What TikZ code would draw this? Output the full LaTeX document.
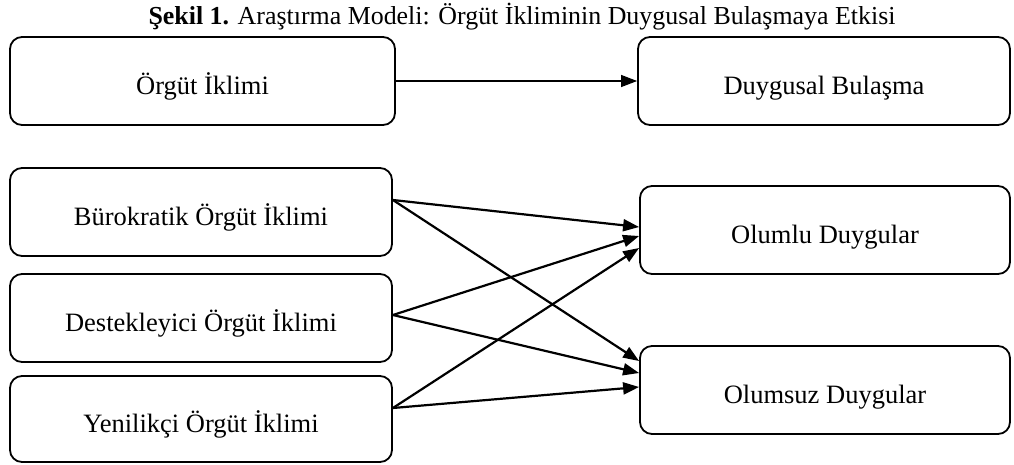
\documentclass[tikz,border=0pt]{standalone}
\usepackage{fontspec}
\setmainfont{Liberation Serif}
\usetikzlibrary{arrows.meta}
\begin{document}
\begin{tikzpicture}[x=1pt,y=-1pt,
  box/.style={draw=black,line width=1.8pt,rounded corners=12pt,inner sep=0pt,
    text height=26pt,text depth=0pt,
    font=\fontsize{26.5}{30}\selectfont},
  link/.style={line width=2.2pt,-{Triangle[length=16pt,width=12pt]}},
  thinlink/.style={line width=1.2pt,-{Triangle[length=16pt,width=12pt]}}]
\useasboundingbox (0,0) rectangle (1014,464);
\node[font=\fontsize{25.9}{30}\selectfont,anchor=base,inner sep=0pt] (title) at (522,24) {\textbf{Şekil 1.} Araştırma Modeli: Örgüt İkliminin Duygusal Bulaşmaya Etkisi};
\node[box,minimum width=385pt,minimum height=88pt] (A) at (202.5,81) {Örgüt İklimi};
\node[box,minimum width=372pt,minimum height=88pt] (B) at (824,81) {Duygusal Bulaşma};
\node[box,minimum width=382pt,minimum height=88pt] (C) at (201,212) {Bürokratik Örgüt İklimi};
\node[box,minimum width=382pt,minimum height=88pt] (D) at (201,318) {Destekleyici Örgüt İklimi};
\node[box,minimum width=382pt,minimum height=86pt] (E) at (201,419) {Yenilikçi Örgüt İklimi};
\node[box,minimum width=370pt,minimum height=88pt] (F) at (825,230) {Olumlu Duygular};
\node[box,minimum width=370pt,minimum height=88pt] (G) at (825,390) {Olumsuz Duygular};
\draw[thinlink] (A.east) -- (B.west);
\draw[link] ([yshift=12pt]C.east) -- ([yshift=3pt]F.west);
\draw[link] ([yshift=12pt]C.east) -- ([yshift=29pt]G.west);
\draw[link] ([yshift=3pt]D.east) -- ([yshift=-6pt]F.west);
\draw[link] ([yshift=3pt]D.east) -- ([yshift=17pt]G.west);
\draw[link] ([yshift=11pt]E.east) -- ([yshift=-18pt]F.west);
\draw[link] ([yshift=11pt]E.east) -- ([yshift=3pt]G.west);
\end{tikzpicture}
\end{document}
